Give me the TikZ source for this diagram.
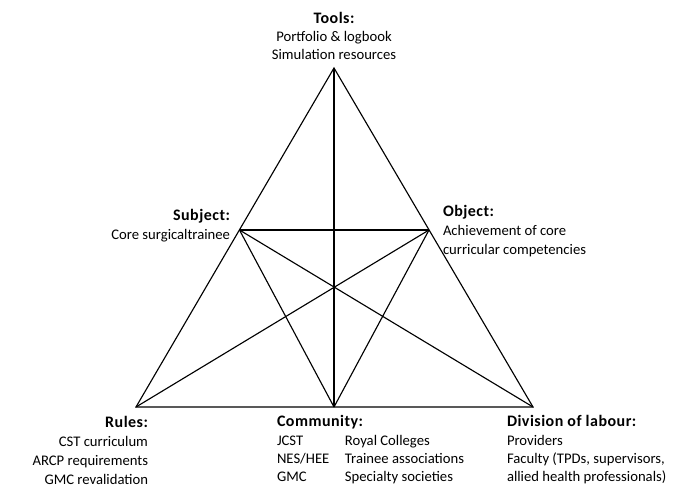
\documentclass[tikz,border=0pt]{standalone}
\usepackage{fontspec}
\setmainfont{Carlito}
\usepackage{array}
% bold heading of each corner label
\newcommand\headtxt[1]{{\fontsize{12}{14}\selectfont\bfseries\addfontfeature{LetterSpace=3}#1}}
\begin{document}
\begin{tikzpicture}[x=0.75pt,y=-0.75pt,
  edge/.style={draw=black,line width=0.85pt},
  lbl/.style={inner sep=0pt,outer sep=0pt,font=\fontsize{11}{14}\selectfont}]
\useasboundingbox (0,0) rectangle (679,488);

% triangle vertices
\coordinate (apex)  at (334,68);
\coordinate (subj)  at (239.5,230);
\coordinate (obj)   at (429,230);
\coordinate (rules) at (136,407);
\coordinate (comm)  at (334,407);
\coordinate (div)   at (533,407);

% outer triangle and inner connections
\draw[edge,line join=miter] (apex) -- (rules) -- (div) -- cycle;
\draw[edge] (subj) -- (obj);
\draw[edge] (apex) -- (comm);
\draw[edge] (subj) -- (comm);
\draw[edge] (subj) -- (div);
\draw[edge] (obj) -- (comm);
\draw[edge] (obj) -- (rules);

% labels
\node[lbl,anchor=base] (tools) at (334,24)
  {\fontsize{11}{13.3}\selectfont\begin{tabular}[t]{@{}c@{}}\headtxt{Tools:}\\ Portfolio \& logbook\\ Simulation resources\end{tabular}};
\node[lbl,anchor=base east] (subject) at (230,221)
  {\begin{tabular}[t]{@{}r@{}}\headtxt{Subject:}\\ Core surgicaltrainee\end{tabular}};
\node[lbl,anchor=base west] (object) at (443,216.7)
  {\begin{tabular}[t]{@{}l@{}}\headtxt{Object:}\\ Achievement of core\\ curricular competencies\end{tabular}};
\node[lbl,anchor=base east] (rulestext) at (148,427.7)
  {\fontsize{11}{14.25}\selectfont\begin{tabular}[t]{@{}r@{}}\headtxt{Rules:}\\ CST curriculum\\ ARCP requirements\\ GMC revalidation\end{tabular}};
\node[lbl,anchor=base west] (community) at (277,426.7)
  {\fontsize{11}{13.75}\selectfont\begin{tabular}[t]{@{}p{51pt}@{}l@{}}\multicolumn{2}{@{}l@{}}{\headtxt{Community:}}\\ JCST & Royal Colleges\\ NES/HEE & Trainee associations\\ GMC & Specialty societies\end{tabular}};
\node[lbl,anchor=base west] (division) at (507,426.7)
  {\fontsize{11}{13.75}\selectfont\begin{tabular}[t]{@{}l@{}}\headtxt{Division of labour:}\\ Providers\\ Faculty (TPDs, supervisors,\\ allied health professionals)\end{tabular}};
\end{tikzpicture}
\end{document}
